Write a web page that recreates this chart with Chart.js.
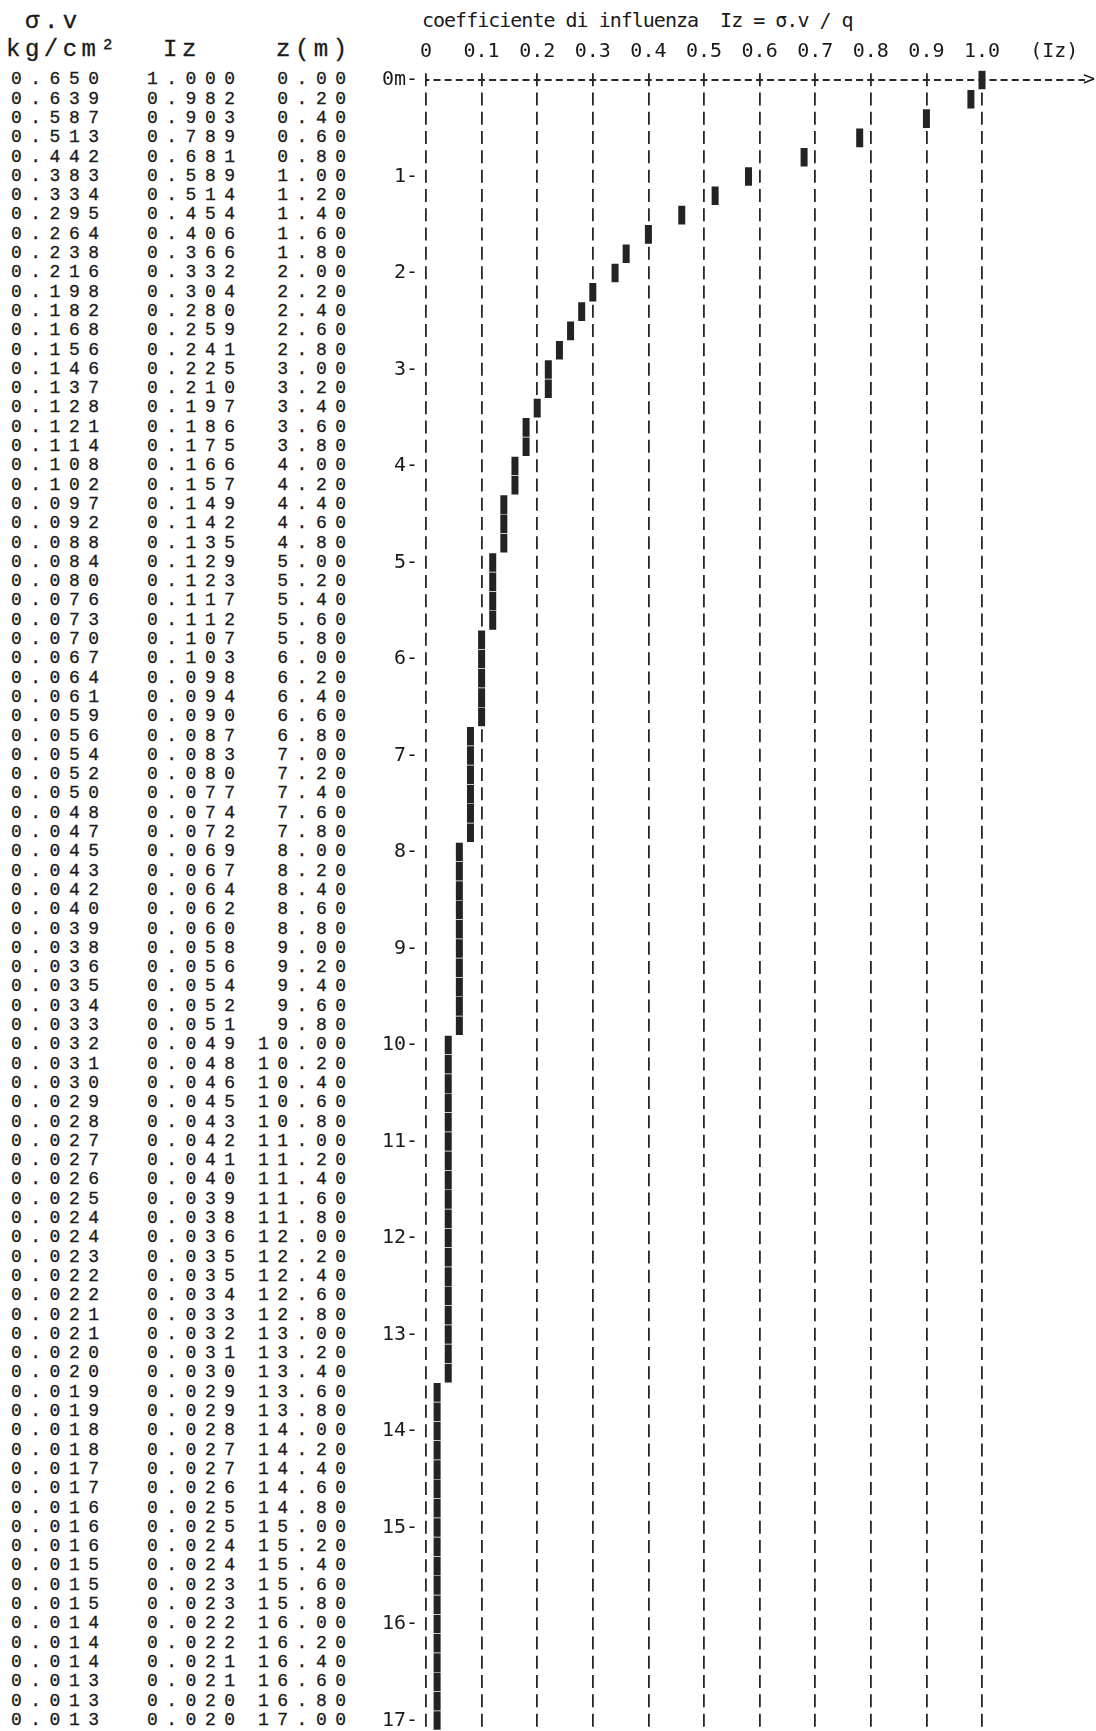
<!DOCTYPE html>
<html lang="it">
<head>
<meta charset="utf-8">
<title>Coefficiente di influenza Iz</title>
<script src="https://cdn.jsdelivr.net/npm/chart.js@4.4.1/dist/chart.umd.min.js"></script>
<style>
  html, body { margin: 0; padding: 0; background: #fff; }
  body { position: relative; width: 1096px; height: 1731px; overflow: hidden; color: #1a1a1a; }
  .head { position: absolute; font-family: 'Liberation Mono', monospace; font-size: 24px; letter-spacing: 4.5px; line-height: 28px; white-space: pre; -webkit-text-stroke: 0.3px #1a1a1a; }
  .cell { position: absolute; font-family: 'Liberation Mono', monospace; font-size: 18px; letter-spacing: 8.5px; line-height: 19.3px; height: 19.3px; white-space: pre; -webkit-text-stroke: 0.3px #1a1a1a; }
  #title { position: absolute; left: 422px; top: 8px; font-family: 'DejaVu Sans Mono', monospace; font-size: 20px; letter-spacing: -1px; line-height: 24px; white-space: pre; }
  /* il canvas sborda di 20px in basso: lo spazio che Chart.js riserva all'ultima etichetta y */
  #chartBox { position: absolute; left: 360px; top: 0; width: 736px; height: 1751px; }
</style>
</head>
<body>
<div class="head" style="left:25px; top:8px;">σ.v</div>
<div class="head" style="left:6px; top:36px;">kg/cm²</div>
<div class="head" style="left:163px; top:36px;">Iz</div>
<div class="head" style="left:276px; top:36px;">z(m)</div>
<div id="table"></div>
<div id="title">coefficiente di influenza  Iz = σ.v / q</div>
<div id="chartBox"><canvas id="izChart" width="736" height="1751"></canvas></div>

<script>
const sigmaV = [
  '0.650','0.639','0.587','0.513','0.442','0.383','0.334','0.295','0.264','0.238',
  '0.216','0.198','0.182','0.168','0.156','0.146','0.137','0.128','0.121','0.114',
  '0.108','0.102','0.097','0.092','0.088','0.084','0.080','0.076','0.073','0.070',
  '0.067','0.064','0.061','0.059','0.056','0.054','0.052','0.050','0.048','0.047',
  '0.045','0.043','0.042','0.040','0.039','0.038','0.036','0.035','0.034','0.033',
  '0.032','0.031','0.030','0.029','0.028','0.027','0.027','0.026','0.025','0.024',
  '0.024','0.023','0.022','0.022','0.021','0.021','0.020','0.020','0.019','0.019',
  '0.018','0.018','0.017','0.017','0.016','0.016','0.016','0.015','0.015','0.015',
  '0.014','0.014','0.014','0.013','0.013','0.013'
];
const izValues = [
  '1.000','0.982','0.903','0.789','0.681','0.589','0.514','0.454','0.406','0.366',
  '0.332','0.304','0.280','0.259','0.241','0.225','0.210','0.197','0.186','0.175',
  '0.166','0.157','0.149','0.142','0.135','0.129','0.123','0.117','0.112','0.107',
  '0.103','0.098','0.094','0.090','0.087','0.083','0.080','0.077','0.074','0.072',
  '0.069','0.067','0.064','0.062','0.060','0.058','0.056','0.054','0.052','0.051',
  '0.049','0.048','0.046','0.045','0.043','0.042','0.041','0.040','0.039','0.038',
  '0.036','0.035','0.035','0.034','0.033','0.032','0.031','0.030','0.029','0.029',
  '0.028','0.027','0.027','0.026','0.025','0.025','0.024','0.024','0.023','0.023',
  '0.022','0.022','0.021','0.021','0.020','0.020'
];
const depths = [
  '0.00','0.20','0.40','0.60','0.80','1.00','1.20','1.40','1.60','1.80',
  '2.00','2.20','2.40','2.60','2.80','3.00','3.20','3.40','3.60','3.80',
  '4.00','4.20','4.40','4.60','4.80','5.00','5.20','5.40','5.60','5.80',
  '6.00','6.20','6.40','6.60','6.80','7.00','7.20','7.40','7.60','7.80',
  '8.00','8.20','8.40','8.60','8.80','9.00','9.20','9.40','9.60','9.80',
  '10.00','10.20','10.40','10.60','10.80','11.00','11.20','11.40','11.60','11.80',
  '12.00','12.20','12.40','12.60','12.80','13.00','13.20','13.40','13.60','13.80',
  '14.00','14.20','14.40','14.60','14.80','15.00','15.20','15.40','15.60','15.80',
  '16.00','16.20','16.40','16.60','16.80','17.00'
];
const xTickValues = [0, 0.1, 0.2, 0.3, 0.4, 0.5, 0.6, 0.7, 0.8, 0.9, 1.0, 1.13];
const xTickLabels = ['0', '0.1', '0.2', '0.3', '0.4', '0.5', '0.6', '0.7', '0.8', '0.9', '1.0', '(Iz)'];
const yTickValues = [0, 1, 2, 3, 4, 5, 6, 7, 8, 9, 10, 11, 12, 13, 14, 15, 16, 17];
const yTickLabels = ['0m-', '1-', '2-', '3-', '4-', '5-', '6-', '7-', '8-', '9-',
  '10-', '11-', '12-', '13-', '14-', '15-', '16-', '17-'];
const axisEnd = 1.185;

const ROW_TOP = 70.35;
const ROW_H = 19.3;
const COLS_PER_UNIT = 50;   // il tabulato stampa una colonna ogni 0.02
const INK = '#1a1a1a';
const MONO = "'DejaVu Sans Mono', monospace";

// --- tabella a sinistra ---
const table = document.getElementById('table');
const addCell = (text, left, i) => {
  const d = document.createElement('div');
  d.className = 'cell';
  d.textContent = text;
  d.style.left = left + 'px';
  d.style.top = (ROW_TOP + i * ROW_H) + 'px';
  table.appendChild(d);
};
depths.forEach((z, i) => {
  addCell(sigmaV[i], 11, i);
  addCell(izValues[i], 147, i);
  addCell(z.padStart(5, ' '), 258, i);
});

// --- grafico ---
const barPoints = depths.map((z, i) => ({
  x: Math.round(parseFloat(izValues[i]) * COLS_PER_UNIT) / COLS_PER_UNIT,
  y: parseFloat(z)
}));

const arrowPlugin = {
  id: 'axisArrow',
  afterDatasetsDraw(chart) {
    const { ctx, scales: { x, y } } = chart;
    ctx.save();
    ctx.font = '20px ' + MONO;
    ctx.fillStyle = INK;
    ctx.textAlign = 'left';
    ctx.textBaseline = 'middle';
    ctx.fillText('>', x.getPixelForValue(axisEnd) - 2, y.getPixelForValue(0));
    ctx.restore();
  }
};

new Chart(document.getElementById('izChart'), {
  type: 'scatter',
  data: {
    datasets: [
      {
        label: 'Iz',
        data: barPoints,
        order: 0,
        pointStyle: 'line',
        rotation: 90,
        radius: 9.3,
        hoverRadius: 9.3,
        borderWidth: 7,
        hoverBorderWidth: 7,
        borderColor: '#232323',
        backgroundColor: '#232323'
      },
      {
        label: 'asse',
        type: 'line',
        data: [{ x: 0, y: 0 }, { x: axisEnd, y: 0 }],
        order: 1,
        showLine: true,
        borderColor: '#262626',
        borderWidth: 2,
        borderDash: [7, 4.12],
        borderDashOffset: 3.62,
        pointRadius: 0,
        fill: false
      }
    ]
  },
  options: {
    responsive: false,
    animation: false,
    events: [],
    layout: { padding: 0, autoPadding: false },
    plugins: { legend: { display: false }, tooltip: { enabled: false }, title: { display: false } },
    scales: {
      x: {
        type: 'linear',
        position: 'top',
        min: 0,
        max: 1.205,
        afterFit: (scale) => { scale.height = ROW_TOP; },
        afterBuildTicks: (scale) => { scale.ticks = xTickValues.map(v => ({ value: v })); },
        grid: {
          drawTicks: false,
          lineWidth: 1.8,
          color: (ctx) => (ctx.tick && ctx.tick.value <= 1.0001 ? '#262626' : 'rgba(0,0,0,0)')
        },
        border: { display: false, dash: [13, 6.3], dashOffset: 16.15 },
        ticks: {
          autoSkip: false,
          maxRotation: 0,
          padding: 7,
          color: INK,
          font: { family: MONO, size: 20 },
          callback: (v, i) => xTickLabels[i]
        }
      },
      y: {
        type: 'linear',
        reverse: true,
        min: -0.1,
        max: 17.109,
        afterFit: (scale) => { scale.width = 66; },
        afterBuildTicks: (scale) => { scale.ticks = yTickValues.map(v => ({ value: v })); },
        grid: { display: false, drawTicks: false },
        border: { display: false },
        ticks: {
          autoSkip: false,
          padding: 8,
          color: INK,
          font: { family: MONO, size: 20 },
          callback: (v, i) => yTickLabels[i]
        }
      }
    }
  },
  plugins: [arrowPlugin]
});
</script>
</body>
</html>
